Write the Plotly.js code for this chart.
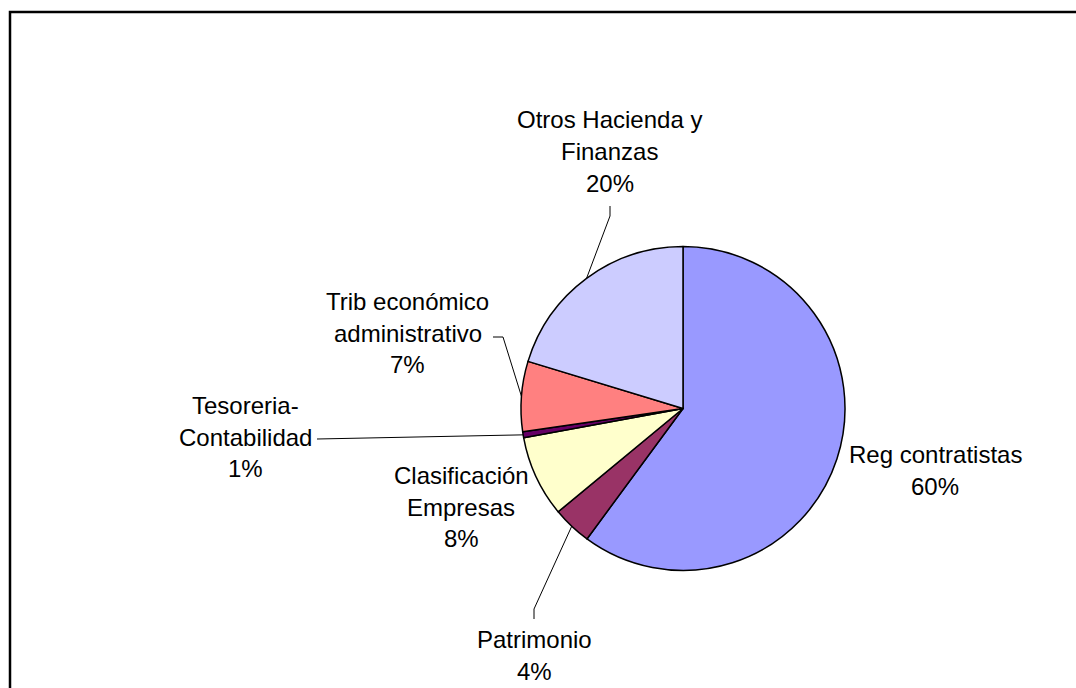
<!DOCTYPE html>
<html><head><meta charset="utf-8">
<script src="https://cdn.plot.ly/plotly-3.0.1.min.js"></script>
<style>html,body{margin:0;padding:0;background:#fff}#chart{width:1076px;height:688px}</style>
</head><body><div id="chart"></div>
<script>
// ---- data ----
const categories = ["Reg contratistas", "Patrimonio", "Clasificación\nEmpresas", "Tesoreria-\nContabilidad", "Trib económico\nadministrativo", "Otros Hacienda y\nFinanzas"];
const values = [60.1, 3.9, 8.1, 0.6, 7.0, 20.3];
const colors = ["#9999FF", "#993366", "#FFFFCC", "#660066", "#FF8080", "#CCCCFF"];

// ---- layout geometry (pixels) ----
const W = 1076, H = 688;
const CX = 683, CY = 408.5, R = 162;
const px = x => x / W, py = y => 1 - y / H;
const STEP = 31.7;
const labelLayout = [
  {x: 935, y: 455},
  {x: 534, y: 639.7, leader: [[534, 619], [534, 609]]},
  {x: 461, y: 475.3},
  {x: 246, y: 405.3, leader: [[317, 439]]},
  {x: 407.5, y: 301.3, leader: [[493, 337], [503, 337]]},
  {x: 609.5, y: 120, leader: [[610, 206], [610, 216]]}
];
const FONT = {family: "Liberation Sans, Arial, sans-serif", size: 24, color: "#000"};

const total = values.reduce((a, b) => a + b, 0);
const annotations = [];
const shapes = [];
let cum = 0;
values.forEach((v, i) => {
  const mid = (cum + v / 2) / total * 2 * Math.PI;
  cum += v;
  const ex = CX + R * Math.sin(mid), ey = CY - R * Math.cos(mid);
  const L = labelLayout[i];
  const lines = categories[i].split("\n").concat([Math.round(v / total * 100) + "%"]);
  lines.forEach((t, j) => {
    annotations.push({x: px(L.x), y: py(L.y + j * STEP), xref: "paper", yref: "paper",
      text: t, showarrow: false, xanchor: "center", yanchor: "middle", font: FONT});
  });
  if (L.leader) {
    const pts = L.leader.concat([[ex, ey]]);
    const path = pts.map((p, k) => (k ? "L" : "M") + px(p[0]) + "," + py(p[1])).join(" ");
    shapes.push({type: "path", xref: "paper", yref: "paper", path: path, line: {color: "#000", width: 1}});
  }
});
// chart frame (left & top edges visible)
shapes.push({type: "path", xref: "paper", yref: "paper",
  path: "M" + px(10) + "," + py(720) + " L" + px(10) + "," + py(12) + " L" + px(1100) + "," + py(12),
  line: {color: "#000", width: 2.5}});

const trace = {
  type: "pie",
  values: values,
  labels: categories.map(c => c.replace("\n", " ")),
  sort: false,
  direction: "clockwise",
  rotation: 0,
  textinfo: "none",
  hoverinfo: "label+percent",
  marker: {colors: colors, line: {color: "#000", width: 1.5}},
  domain: {x: [px(CX - R), px(CX + R)], y: [py(CY + R), py(CY - R)]},
  showlegend: false
};

Plotly.newPlot("chart", [trace], {
  width: W, height: H,
  margin: {l: 0, r: 0, t: 0, b: 0},
  paper_bgcolor: "#fff", plot_bgcolor: "#fff",
  showlegend: false,
  annotations: annotations,
  shapes: shapes
}, {displayModeBar: false, staticPlot: true});
</script>
</body></html>
